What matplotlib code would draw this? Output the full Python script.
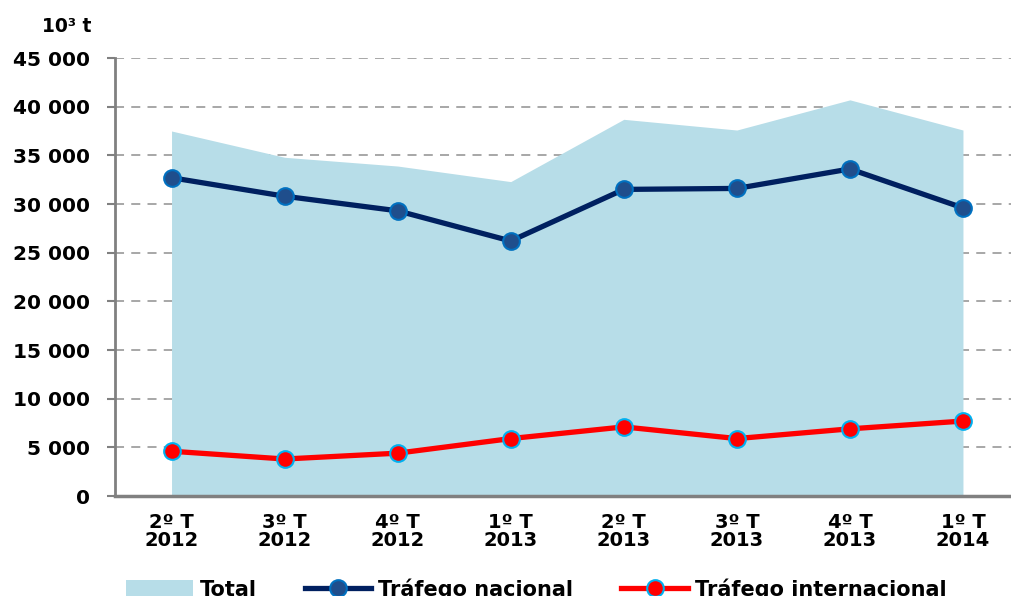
import matplotlib
matplotlib.use("Agg")
import matplotlib.pyplot as plt
from matplotlib.patches import Patch
from matplotlib.lines import Line2D
from matplotlib.ticker import FuncFormatter

categories = ["2º T\n2012", "3º T\n2012", "4º T\n2012", "1º T\n2013",
              "2º T\n2013", "3º T\n2013", "4º T\n2013", "1º T\n2014"]
total = [37500, 34800, 33900, 32300, 38700, 37600, 40700, 37600]
nacional = [32700, 30800, 29300, 26200, 31500, 31600, 33600, 29600]
internacional = [4600, 3800, 4400, 5900, 7100, 5900, 6900, 7700]
yticks = list(range(0, 45001, 5000))

W, H = 1011, 596
fig = plt.figure(figsize=(W / 100, H / 100), dpi=100)
ax = fig.add_axes([115 / W, 100 / H, (1019.5 - 115) / W, 438 / H])

x = list(range(len(categories)))
ax.fill_between(x, 0, total, color="#B7DDE8", linewidth=0, zorder=1)
ax.plot(x, nacional, color="#002060", linewidth=3.8, marker="o", markersize=12,
        markerfacecolor="#1F4E8C", markeredgecolor="#0070C0", markeredgewidth=1.5, zorder=3)
ax.plot(x, internacional, color="#FF0000", linewidth=3.8, marker="o", markersize=12,
        markerfacecolor="#FF0000", markeredgecolor="#00B0F0", markeredgewidth=1.5, zorder=3)

ax.set_xlim(-0.5, 7.5)
ax.set_ylim(0, 45000)
ax.set_yticks(yticks)
ax.yaxis.set_major_formatter(FuncFormatter(lambda v, p: f"{int(v):,}".replace(",", " ")))
ax.set_xticks(x)
ax.set_xticklabels(categories, fontsize=14, fontweight="bold", family="DejaVu Sans", linespacing=0.95)
ax.set_xticks([i + 0.5 for i in range(len(categories) - 1)], minor=True)
ax.tick_params(axis="x", which="major", length=0, pad=12)
ax.tick_params(axis="x", which="minor", direction="in", length=4, width=1.2, color="#808080")
ax.tick_params(axis="y", direction="out", length=6, width=1.5, color="#808080", pad=12)
for lab in ax.get_yticklabels():
    lab.set_fontsize(14.5)
    lab.set_fontweight("bold")
    lab.set_family("DejaVu Sans")

ax.set_axisbelow(True)
ax.yaxis.grid(True, linestyle=(0, (5, 4)), color="#A0A0A0", linewidth=1.3)
ax.spines["top"].set_visible(False)
ax.spines["right"].set_visible(False)
ax.spines["left"].set_color("#808080")
ax.spines["left"].set_linewidth(2)
ax.spines["bottom"].set_color("#808080")
ax.spines["bottom"].set_linewidth(2.5)

fig.text(42 / W, 1 - 27 / H, "10³ t", fontsize=13.5, fontweight="bold",
         family="DejaVu Sans", va="center", ha="left")

handles = [
    Patch(facecolor="#B7DDE8", edgecolor="none"),
    Line2D([0], [0], color="#002060", linewidth=3.8, marker="o", markersize=12,
           markerfacecolor="#1F4E8C", markeredgecolor="#0070C0", markeredgewidth=1.5),
    Line2D([0], [0], color="#FF0000", linewidth=3.8, marker="o", markersize=12,
           markerfacecolor="#FF0000", markeredgecolor="#00B0F0", markeredgewidth=1.5),
]
fig.legend(handles, ["Total", "Tráfego nacional", "Tráfego internacional"],
           loc="upper left", bbox_to_anchor=(126 / W, 1 - 579 / H), ncol=3,
           frameon=False, borderpad=0, borderaxespad=0, handlelength=3.2,
           handleheight=1.0, handletextpad=0.34, columnspacing=2.3,
           prop={"family": "DejaVu Sans", "weight": "bold", "size": 15})

fig.savefig("out.png", dpi=100)
